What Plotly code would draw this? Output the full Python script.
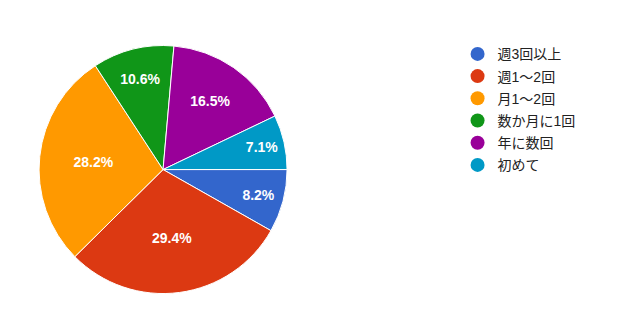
import plotly.graph_objects as go

labels = ["週3回以上", "週1〜2回", "月1〜2回", "数か月に1回", "年に数回", "初めて"]
values = [8.2, 29.4, 28.2, 10.6, 16.5, 7.1]
colors = ["#3366CC", "#DC3912", "#FF9900", "#109618", "#990099", "#0099C6"]

FONT = "Arial, 'Liberation Sans', 'Noto Sans CJK JP', sans-serif"

fig = go.Figure()
fig.add_trace(go.Pie(
    labels=labels, values=values, sort=False, direction="clockwise", rotation=90,
    marker=dict(colors=colors, line=dict(color="white", width=1)),
    texttemplate="<b>%{value:.1f}%</b>", textposition="inside",
    insidetextorientation="horizontal",
    textfont=dict(color="white", size=14, family=FONT),
    showlegend=False, hoverinfo="label+percent",
    domain=dict(x=[0.063, 0.463], y=[0.078, 0.859]),
))
for i, (lab, col) in enumerate(zip(labels, colors)):
    fig.add_trace(go.Scatter(
        x=[None], y=[None], mode="markers", name=lab, legendgroup=f"g{i}",
        marker=dict(symbol="circle", size=14, color=col),
        showlegend=True,
    ))

fig.update_layout(
    width=620, height=319, margin=dict(l=0, r=0, t=0, b=0),
    paper_bgcolor="white", plot_bgcolor="white",
    xaxis=dict(visible=False), yaxis=dict(visible=False),
    legend=dict(x=0.738, y=0.88, xanchor="left", yanchor="top",
                font=dict(size=14, color="#222222", family=FONT),
                itemwidth=30, tracegroupgap=1, bgcolor="rgba(0,0,0,0)"),
    font=dict(family=FONT),
)
fig.write_html("out.html")
